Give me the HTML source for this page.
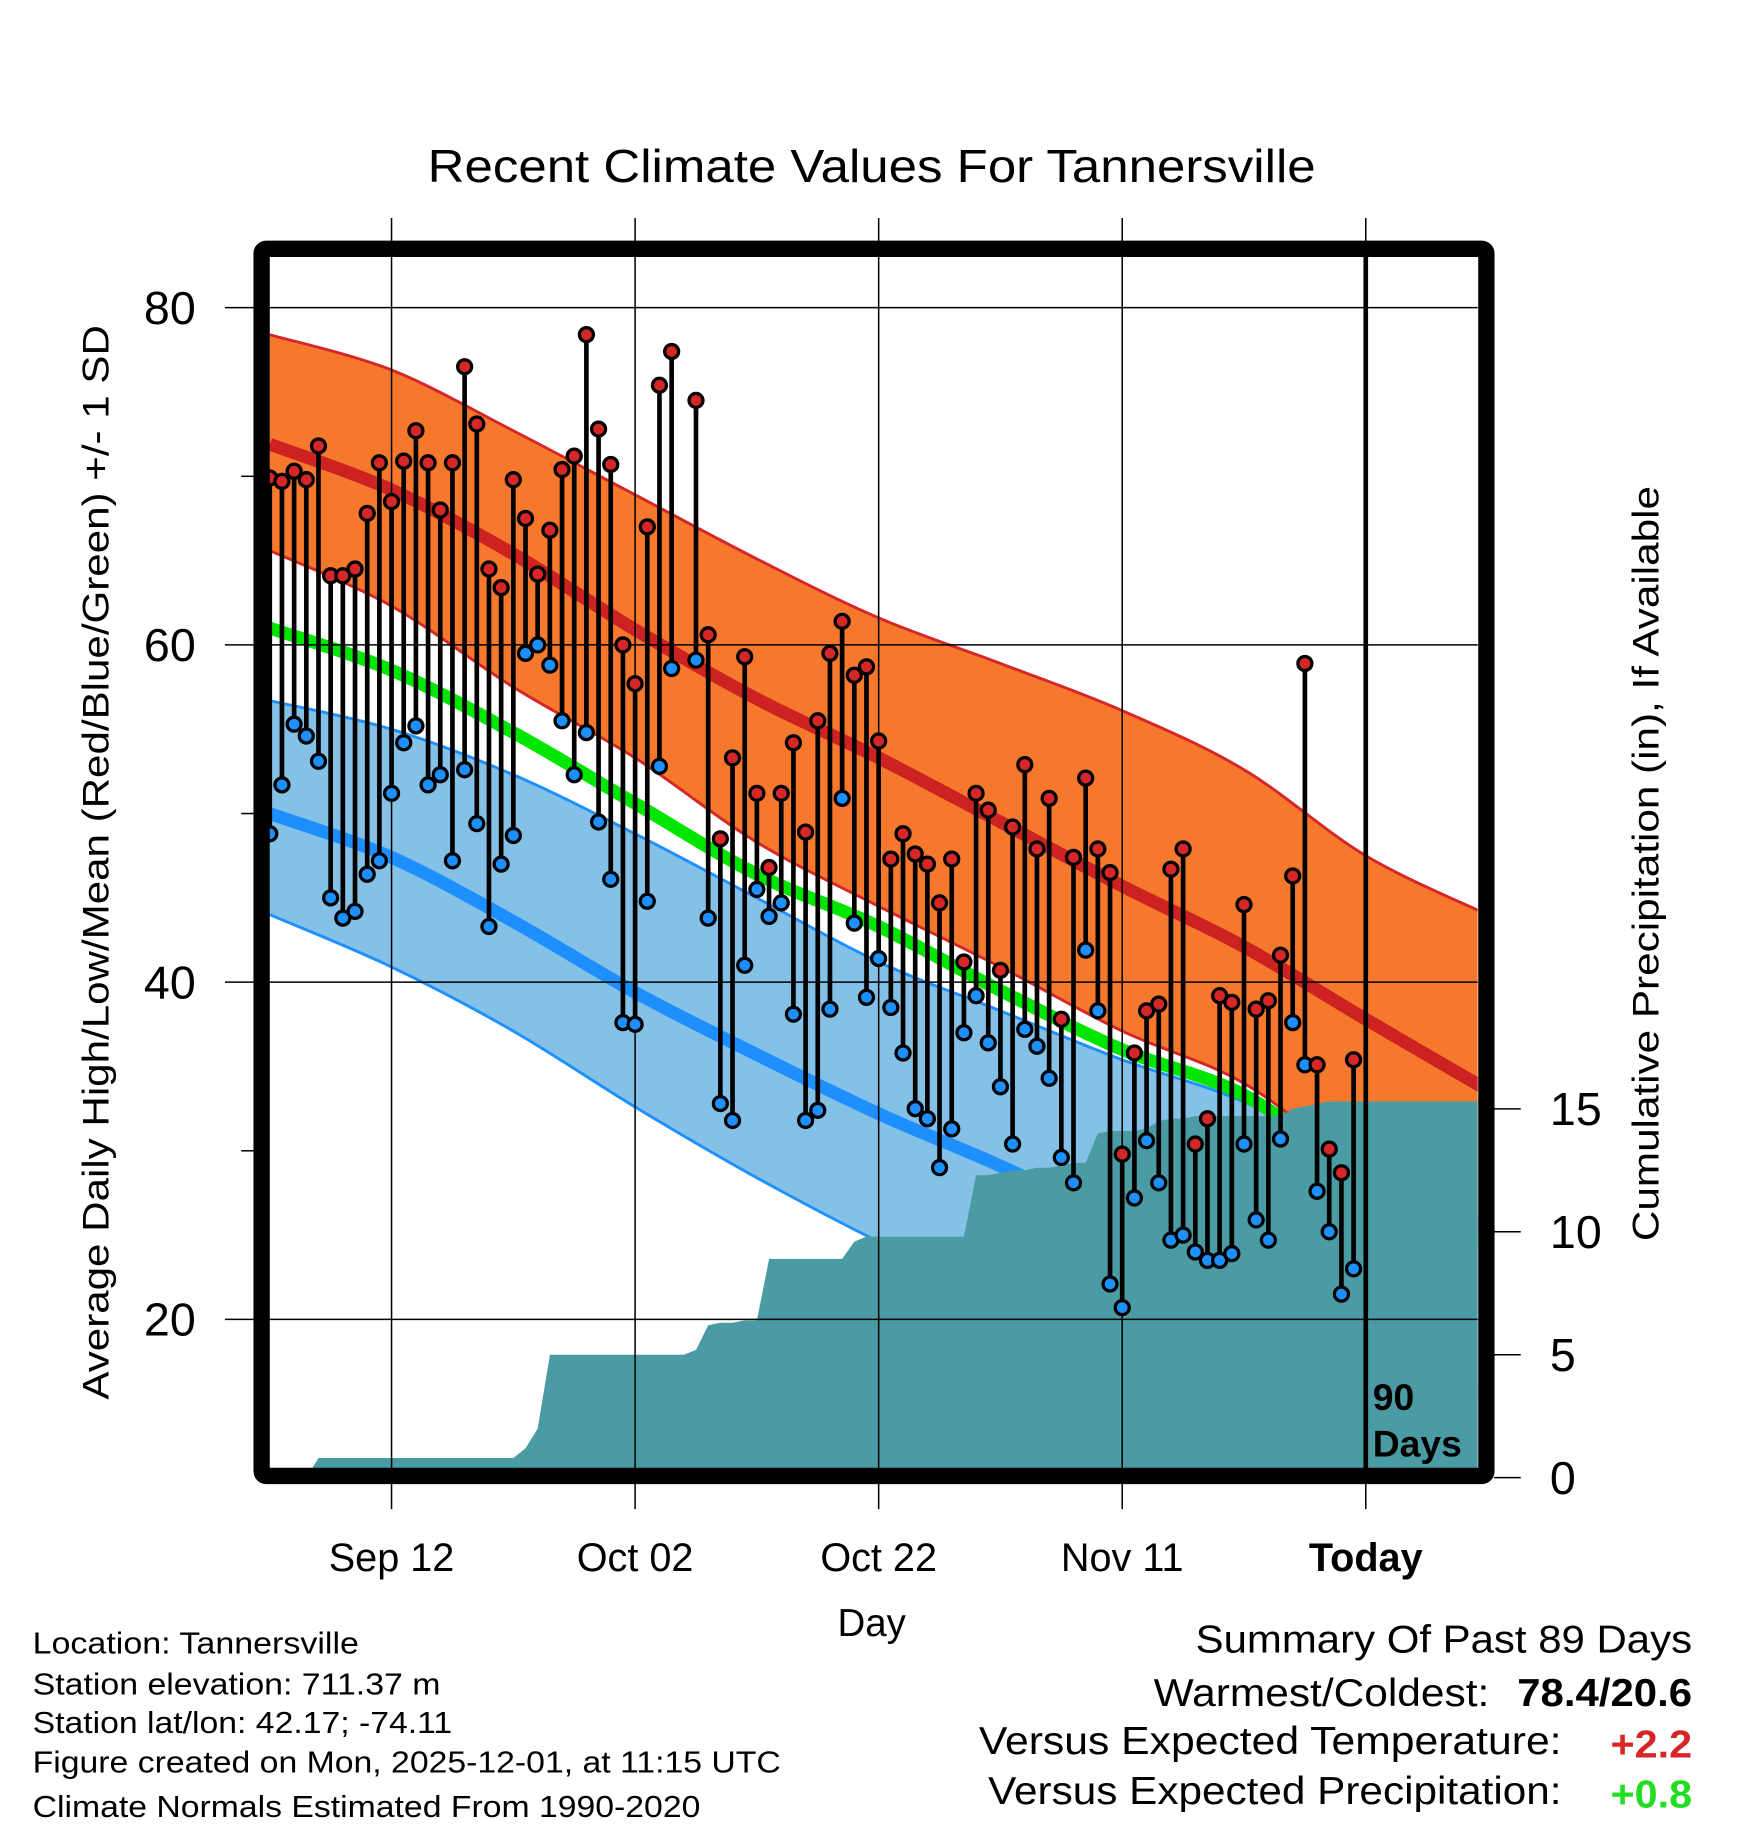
<!DOCTYPE html>
<html><head><meta charset="utf-8"><style>
html,body{margin:0;padding:0;background:#fff}
svg{display:block}
text{font-family:"Liberation Sans",sans-serif;fill:#000}
</style></head><body>
<svg id="chart" xmlns="http://www.w3.org/2000/svg" width="1748" height="1828" viewBox="0 0 1500 1568.6">
<defs><clipPath id="plotclip"><rect x="231" y="220" width="1037" height="1040"/></clipPath></defs>
<g id="bands" clip-path="url(#plotclip)"></g>
<g id="grid"></g>
<g id="marks" clip-path="url(#plotclip)"></g>
<rect x="224.5" y="213.5" width="1051" height="1053" fill="none" stroke="#000" stroke-width="14" rx="4"/>
<g id="axes"></g>
<text x="748" y="156" font-size="40" text-anchor="middle" textLength="762" lengthAdjust="spacingAndGlyphs">Recent Climate Values For Tannersville</text>
<text transform="translate(93,740) rotate(-90)" font-size="32" text-anchor="middle" textLength="922" lengthAdjust="spacingAndGlyphs">Average Daily High/Low/Mean (Red/Blue/Green) +/- 1 SD</text>
<text transform="translate(1423,741) rotate(-90)" font-size="32" text-anchor="middle" textLength="648" lengthAdjust="spacingAndGlyphs">Cumulative Precipitation (in), If Available</text>
<text x="748" y="1404" font-size="33" text-anchor="middle">Day</text>
<g font-size="26">
<text x="28" y="1419" textLength="280" lengthAdjust="spacingAndGlyphs">Location: Tannersville</text>
<text x="28" y="1454" textLength="350" lengthAdjust="spacingAndGlyphs">Station elevation: 711.37 m</text>
<text x="28" y="1487" textLength="360" lengthAdjust="spacingAndGlyphs">Station lat/lon: 42.17; -74.11</text>
<text x="28" y="1521" textLength="642" lengthAdjust="spacingAndGlyphs">Figure created on Mon, 2025-12-01, at 11:15 UTC</text>
<text x="28" y="1559" textLength="573" lengthAdjust="spacingAndGlyphs">Climate Normals Estimated From 1990-2020</text>
</g>
<g font-size="33">
<text x="1452" y="1418" text-anchor="end" textLength="426" lengthAdjust="spacingAndGlyphs">Summary Of Past 89 Days</text>
<text x="1278" y="1464" text-anchor="end" textLength="288" lengthAdjust="spacingAndGlyphs">Warmest/Coldest:</text>
<text x="1452" y="1464" text-anchor="end" font-weight="bold" textLength="150" lengthAdjust="spacingAndGlyphs">78.4/20.6</text>
<text x="1340" y="1505" text-anchor="end" textLength="500" lengthAdjust="spacingAndGlyphs">Versus Expected Temperature:</text>
<text x="1452" y="1508" text-anchor="end" font-weight="bold" style="fill:#d62728" textLength="70" lengthAdjust="spacingAndGlyphs">+2.2</text>
<text x="1340" y="1548" text-anchor="end" textLength="492" lengthAdjust="spacingAndGlyphs">Versus Expected Precipitation:</text>
<text x="1452" y="1551" text-anchor="end" font-weight="bold" style="fill:#22dd22" textLength="70" lengthAdjust="spacingAndGlyphs">+0.8</text>
</g>
</svg>
<script>
// Daily values, day offsets -90..-1 relative to Today (null = missing)
const highs=[69.9,69.7,70.3,69.8,71.8,64.1,64.1,64.5,67.8,70.8,68.5,70.9,72.7,70.8,68.0,70.8,76.5,73.1,64.5,63.4,69.8,67.5,64.2,66.8,70.4,71.2,78.4,72.8,70.7,60.0,57.7,67.0,75.4,77.4,null,74.5,60.6,48.5,53.3,59.3,51.2,46.8,51.2,54.2,48.9,55.5,59.5,61.4,58.2,58.7,54.3,47.3,48.8,47.6,47.0,44.7,47.3,41.2,51.2,50.2,40.7,49.2,52.9,47.9,50.9,37.8,47.4,52.1,47.9,46.5,29.8,35.8,38.3,38.7,46.7,47.9,30.4,31.9,39.2,38.8,44.6,38.4,38.9,41.6,46.3,58.9,35.1,30.1,28.7,35.4];
const lows=[48.8,51.7,55.3,54.6,53.1,45.0,43.8,44.2,46.4,47.2,51.2,54.2,55.2,51.7,52.3,47.2,52.6,49.4,43.3,47.0,48.7,59.5,60.0,58.8,55.5,52.3,54.8,49.5,46.1,37.6,37.5,44.8,52.8,58.6,null,59.1,43.8,32.8,31.8,41.0,45.5,43.9,44.7,38.1,31.8,32.4,38.4,50.9,43.5,39.1,41.4,38.5,35.8,32.5,31.9,29.0,31.3,37.0,39.2,36.4,33.8,30.4,37.2,36.2,34.3,29.6,28.1,41.9,38.3,22.1,20.7,27.2,30.6,28.1,24.7,25.0,24.0,23.5,23.5,23.9,30.4,25.9,24.7,30.7,37.6,35.1,27.6,25.2,21.5,23.0];
const precip=[0,0,0,0,0.8,0.8,0.8,0.8,0.8,0.8,0.8,0.8,0.8,0.8,0.8,0.8,0.8,0.8,0.8,0.8,0.8,1.2,2.0,5.0,5.0,5.0,5.0,5.0,5.0,5.0,5.0,5.0,5.0,5.0,5.0,5.2,6.2,6.3,6.3,6.4,6.4,8.9,8.9,8.9,8.9,8.9,8.9,8.9,9.6,9.8,9.8,9.8,9.8,9.8,9.8,9.8,9.8,9.8,12.3,12.3,12.4,12.5,12.5,12.6,12.6,12.7,12.8,12.8,14.0,14.1,14.1,14.1,14.2,14.5,14.6,14.6,14.7,14.7,14.7,14.7,14.7,14.7,14.7,14.7,15.0,15.1,15.2,15.3,15.3,15.3];
// Normals at day offsets -90,-80,...,10
const normDays=[-90,-80,-70,-60,-50,-40,-30,-20,-10,0,10];
const normHigh=[71.9,69.2,65.4,60.9,56.8,53.3,49.5,45.7,42.1,37.8,33.6];
const normHighUp=[78.4,76.3,72.7,68.9,65.1,61.6,58.9,56.1,52.6,47.5,44.0];
const normHighLo=[65.6,62.3,57.5,53.3,48.3,44.5,40.9,37.1,34.0,28.8,25.0];
const normLow=[50.0,47.4,43.6,39.4,35.7,32.2,29.1,25.7,22.9,19.1,15.3];
const normLowUp=[56.7,55.0,52.3,48.8,45.0,41.2,38.3,35.4,32.9,29.1,25.7];
const normLowLo=[44.0,40.9,37.1,32.6,28.4,24.6,21.2,17.7,14.6,10.5,7.0];
const normMean=[61.0,58.5,54.8,50.6,46.4,43.3,39.5,36.0,33.3,28.4,24.4];
const tempTicks=[20,40,60,80];
const minorTicks=[30,50,70];
const precipTicks=[0,5,10,15];
const dateTicks=[-80,-60,-40,-20,0];
const dateLabels=["Sep 12","Oct 02","Oct 22","Nov 11","Today"];

const NS="http://www.w3.org/2000/svg";
const X=d=>1172+10.45*d;
const Y=t=>264+(80-t)*14.47;
const P=p=>1268-p*21.1;
function mk(tag,attrs,parent){const e=document.createElementNS(NS,tag);for(const k in attrs)e.setAttribute(k,attrs[k]);parent.appendChild(e);return e;}
const bands=document.getElementById('bands'),grid=document.getElementById('grid'),marks=document.getElementById('marks'),axes=document.getElementById('axes');
function xy(arr){return normDays.map((d,i)=>[X(d),Y(arr[i])]);}
// Catmull-Rom smooth path segment through points (no leading M)
function smooth(p){let s='';for(let i=0;i<p.length-1;i++){const p0=p[Math.max(i-1,0)],p1=p[i],p2=p[i+1],p3=p[Math.min(i+2,p.length-1)];
  const c1=[p1[0]+(p2[0]-p0[0])/6,p1[1]+(p2[1]-p0[1])/6],c2=[p2[0]-(p3[0]-p1[0])/6,p2[1]-(p3[1]-p1[1])/6];
  s+=' C'+c1[0].toFixed(1)+','+c1[1].toFixed(1)+' '+c2[0].toFixed(1)+','+c2[1].toFixed(1)+' '+p2[0].toFixed(1)+','+p2[1].toFixed(1);}return s;}
function pathOf(arr){const p=xy(arr);return 'M'+p[0][0].toFixed(1)+','+p[0][1].toFixed(1)+smooth(p);}
function band(up,lo,fill,edge,name){
  const pu=xy(up),pl=xy(lo).reverse();
  const d='M'+pu[0][0]+','+pu[0][1]+smooth(pu)+' L'+pl[0][0]+','+pl[0][1]+smooth(pl)+' Z';
  const p=mk('path',{d:d,fill:fill},bands);
  
  
  [up,lo].forEach(a=>{const l=mk('path',{d:pathOf(a),fill:'none',stroke:edge,'stroke-width':2.5},bands);
    
    });
}
function line(a,col,w,name){const l=mk('path',{d:pathOf(a),fill:'none',stroke:col,'stroke-width':w},bands);
  
  }
band(normHighUp,normHighLo,'#f5782d','#d62728','high-sd-band');
line(normHigh,'#cc2222',11,'normal-high-line');
band(normLowUp,normLowLo,'#85c1e6','#1e90ff','low-sd-band');
line(normLow,'#1e8fff',11,'normal-low-line');
line(normMean,'#00e600',11,'normal-mean-line');
// precipitation area
let pp=['231,1262'];
precip.forEach((v,i)=>{pp.push(X(i-90).toFixed(1)+','+P(v).toFixed(1));});
pp.push('1270,'+P(precip[precip.length-1]).toFixed(1),'1270,1262');
const pa=mk('polygon',{points:pp.join(' '),fill:'#4a9ba4'},bands);


// grid & ticks
tempTicks.forEach(t=>{const l=mk('line',{x1:193,x2:1268,y1:Y(t),y2:Y(t),stroke:'#000','stroke-width':1.3},grid);
  
  
  const tx=mk('text',{x:168,y:Y(t)+14,'font-size':40,'text-anchor':'end'},axes);tx.textContent=t;
  
  });
minorTicks.forEach(t=>{const l=mk('line',{x1:207,x2:220,y1:Y(t),y2:Y(t),stroke:'#000','stroke-width':1.3},axes);
  
  });
dateTicks.forEach((d,i)=>{const l=mk('line',{x1:X(d),x2:X(d),y1:187,y2:1295,stroke:'#000','stroke-width':1.3},grid);
  
  
  const tx=mk('text',{x:X(d),y:1348,'font-size':34,'text-anchor':'middle'},axes);tx.textContent=dateLabels[i];
  if(i===4)tx.setAttribute('font-weight','bold');
  
  });
precipTicks.forEach(p=>{const l=mk('line',{x1:1282,x2:1305,y1:P(p),y2:P(p),stroke:'#000','stroke-width':1.3},axes);
  
  
  const tx=mk('text',{x:1330,y:P(p)+14,'font-size':40},axes);tx.textContent=p;
  
  });
// today line
const tl=mk('line',{x1:X(0),x2:X(0),y1:220,y2:1262,stroke:'#000','stroke-width':4},marks);


// daily stems and dots
highs.forEach((h,i)=>{const lo=lows[i];if(h==null||lo==null)return;const x=X(i-90);
  const s=mk('line',{x1:x,x2:x,y1:Y(h),y2:Y(lo),stroke:'#000','stroke-width':4},marks);
  
  });
highs.forEach((h,i)=>{const lo=lows[i];if(h==null||lo==null)return;const x=X(i-90);
  const c1=mk('circle',{cx:x,cy:Y(h),r:6,fill:'#d62728',stroke:'#000','stroke-width':2.8},marks);
  
  
  const c2=mk('circle',{cx:x,cy:Y(lo),r:6,fill:'#1e8fff',stroke:'#000','stroke-width':2.8},marks);
  
  });
const t1=mk('text',{x:1178,y:1210,'font-size':32,'font-weight':'bold'},axes);t1.textContent='90';


const t2=mk('text',{x:1178,y:1250,'font-size':32,'font-weight':'bold'},axes);t2.textContent='Days';


</script>
</body></html>
